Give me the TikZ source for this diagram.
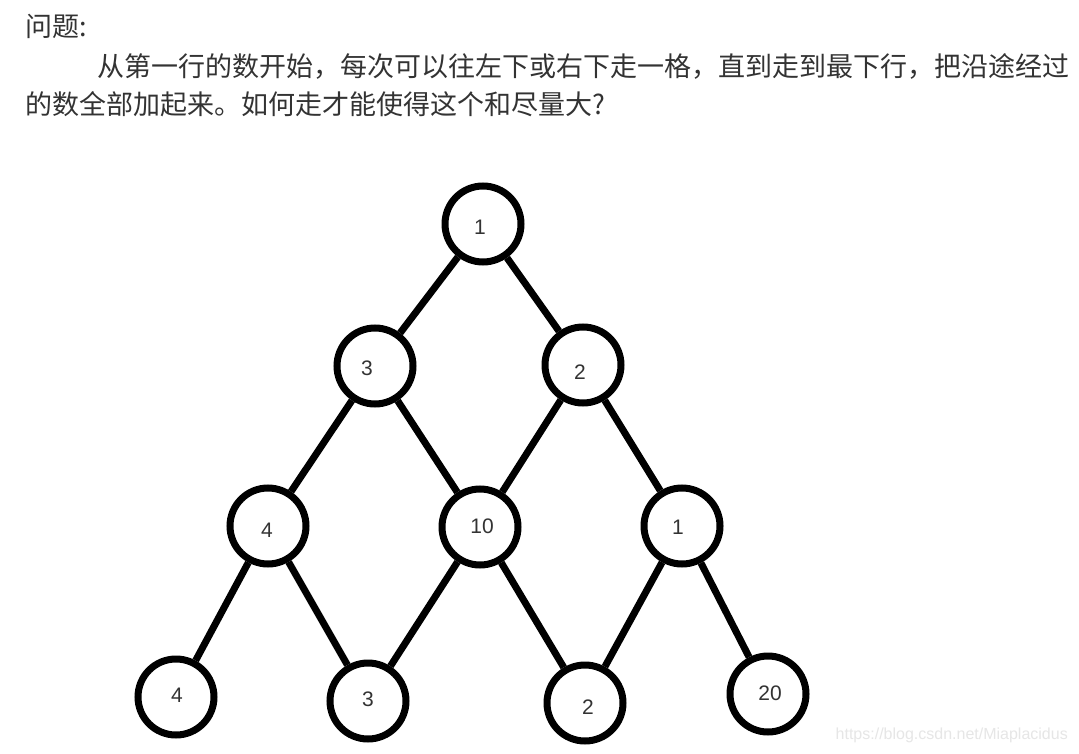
\documentclass[tikz,border=0pt]{standalone}
\usepackage{fontspec}
\setmainfont{Liberation Sans}
\newfontfamily\cjk{Noto Sans CJK SC}
\definecolor{txtgray}{RGB}{51,51,51}
\definecolor{wmgray}{RGB}{230,230,230}
\begin{document}
\begin{tikzpicture}[x=1pt,y=-1pt,
  nd/.style={circle,draw=black,line width=7pt,minimum size=76pt,inner sep=0pt},
  lab/.style={font=\fontsize{21}{24}\selectfont,text=txtgray,inner sep=0pt},
  edge/.style={line width=7pt,draw=black},
  para/.style={anchor=base west,inner sep=0pt,font=\cjk\fontsize{27}{32}\selectfont,text=txtgray}]
\fill[white] (0,0) rectangle (1079,754);
\useasboundingbox (0,0) rectangle (1079,754);
% text
\node[para] (t1) at (25,37) {问题:};
\node[para] (t2) at (97,77) {从第一行的数开始，每次可以往左下或右下走一格，直到走到最下行，把沿途经过};
\node[para] (t3) at (25,115) {的数全部加起来。如何走才能使得这个和尽量大?};
% nodes
\node[nd,label={[lab,xshift=-3pt,yshift=-3pt]center:1}] (a) at (483,224) {};
\node[nd,label={[lab,xshift=-8pt,yshift=-2pt]center:3}] (b1) at (375,366) {};
\node[nd,label={[lab,xshift=-3pt,yshift=-7pt]center:2}] (b2) at (583,365) {};
\node[nd,label={[lab,xshift=-1pt,yshift=-4pt]center:4}] (c1) at (268,526) {};
\node[nd,label={[lab,xshift=2pt,yshift=1pt]center:10}] (c2) at (480,527) {};
\node[nd,label={[lab,xshift=-4pt,yshift=-1pt]center:1}] (c3) at (682,526) {};
\node[nd,label={[lab,xshift=1pt,yshift=2pt]center:4}] (d1) at (176,697) {};
\node[nd,label={[lab,xshift=0pt,yshift=2pt]center:3}] (d2) at (368,701) {};
\node[nd,label={[lab,xshift=3pt,yshift=-4pt]center:2}] (d3) at (585,703) {};
\node[nd,label={[lab,xshift=2pt,yshift=1pt]center:20}] (d4) at (768,694) {};
% edges
\draw[edge] (a) -- (b1);
\draw[edge] (a) -- (b2);
\draw[edge] (b1) -- (c1);
\draw[edge] (b1) -- (c2);
\draw[edge] (b2) -- (c2);
\draw[edge] (b2) -- (c3);
\draw[edge] (c1) -- (d1);
\draw[edge] (c1) -- (d2);
\draw[edge] (c2) -- (d2);
\draw[edge] (c2) -- (d3);
\draw[edge] (c3) -- (d3);
\draw[edge] (c3) -- (d4);
% watermark
\node[anchor=east,inner sep=0pt,text=wmgray,font=\fontsize{16}{18}\selectfont] (wm) at (1068,735) {https://blog.csdn.net/Miaplacidus};
\end{tikzpicture}
\end{document}
